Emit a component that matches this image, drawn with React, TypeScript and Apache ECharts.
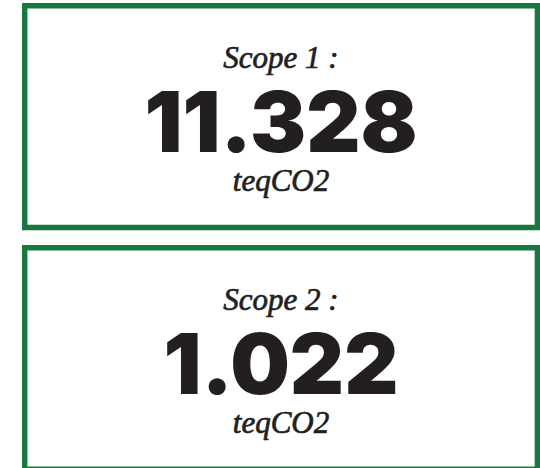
import React, { useEffect, useRef } from "react";
import * as echarts from "echarts";

const scopeLabels = ["Scope 1 :", "Scope 2 :"];
const scopeValues = [11.328, 1.022];
const unitLabels = ["teqCO2", "teqCO2"];

const GREEN = "#17793f";
const INK = "#231f20";
const SERIF = '"Liberation Serif", "Times New Roman", serif';
const SANS = 'Inter, "Noto Sans", Roboto, sans-serif';

export default function App() {
  const ref = useRef<HTMLDivElement>(null);
  useEffect(() => {
    if (!ref.current) return;
    const chart = echarts.init(ref.current, null, { renderer: "svg" });
    const boxes = [
      { top: 5.7, bottom: 227.5 },
      { top: 247.7, bottom: 469.3 },
    ];
    const left = 24.7;
    const right = 537.4;
    const cx = (22 + 540) / 2;
    const elements: any[] = [];
    scopeLabels.forEach((label, i) => {
      const b = boxes[i];
      const oTop = b.top - 2.7;
      elements.push({
        type: "rect",
        shape: { x: left, y: b.top, width: right - left, height: b.bottom - b.top },
        style: { fill: "#ffffff", stroke: GREEN, lineWidth: 5.4 },
        z: 1,
      });
      elements.push({
        type: "text",
        x: cx,
        y: oTop + 54,
        style: {
          text: label,
          font: `italic normal 31px ${SERIF}`,
          fill: INK,
          stroke: INK,
          lineWidth: 0.7,
          lineHeight: 28,
          textAlign: "center",
          textVerticalAlign: "middle",
        },
        z: 2,
      });
      elements.push({
        type: "text",
        x: cx,
        y: oTop + 118,
        style: {
          text: scopeValues[i].toFixed(3),
          font: `900 84px ${SANS}`,
          fill: INK,
          lineHeight: 62,
          textAlign: "center",
          textVerticalAlign: "middle",
        },
        z: 2,
      });
      elements.push({
        type: "text",
        x: cx,
        y: oTop + 177,
        style: {
          text: unitLabels[i],
          font: `italic normal 31px ${SERIF}`,
          fill: INK,
          stroke: INK,
          lineWidth: 0.7,
          lineHeight: 28,
          textAlign: "center",
          textVerticalAlign: "middle",
        },
        z: 2,
      });
    });
    chart.setOption({
      animation: false,
      backgroundColor: "#ffffff",
      graphic: { elements },
    });
    return () => chart.dispose();
  }, []);
  return (
    <div
      ref={ref}
      style={{ position: "fixed", left: 0, top: 0, width: 540, height: 468 }}
    />
  );
}
